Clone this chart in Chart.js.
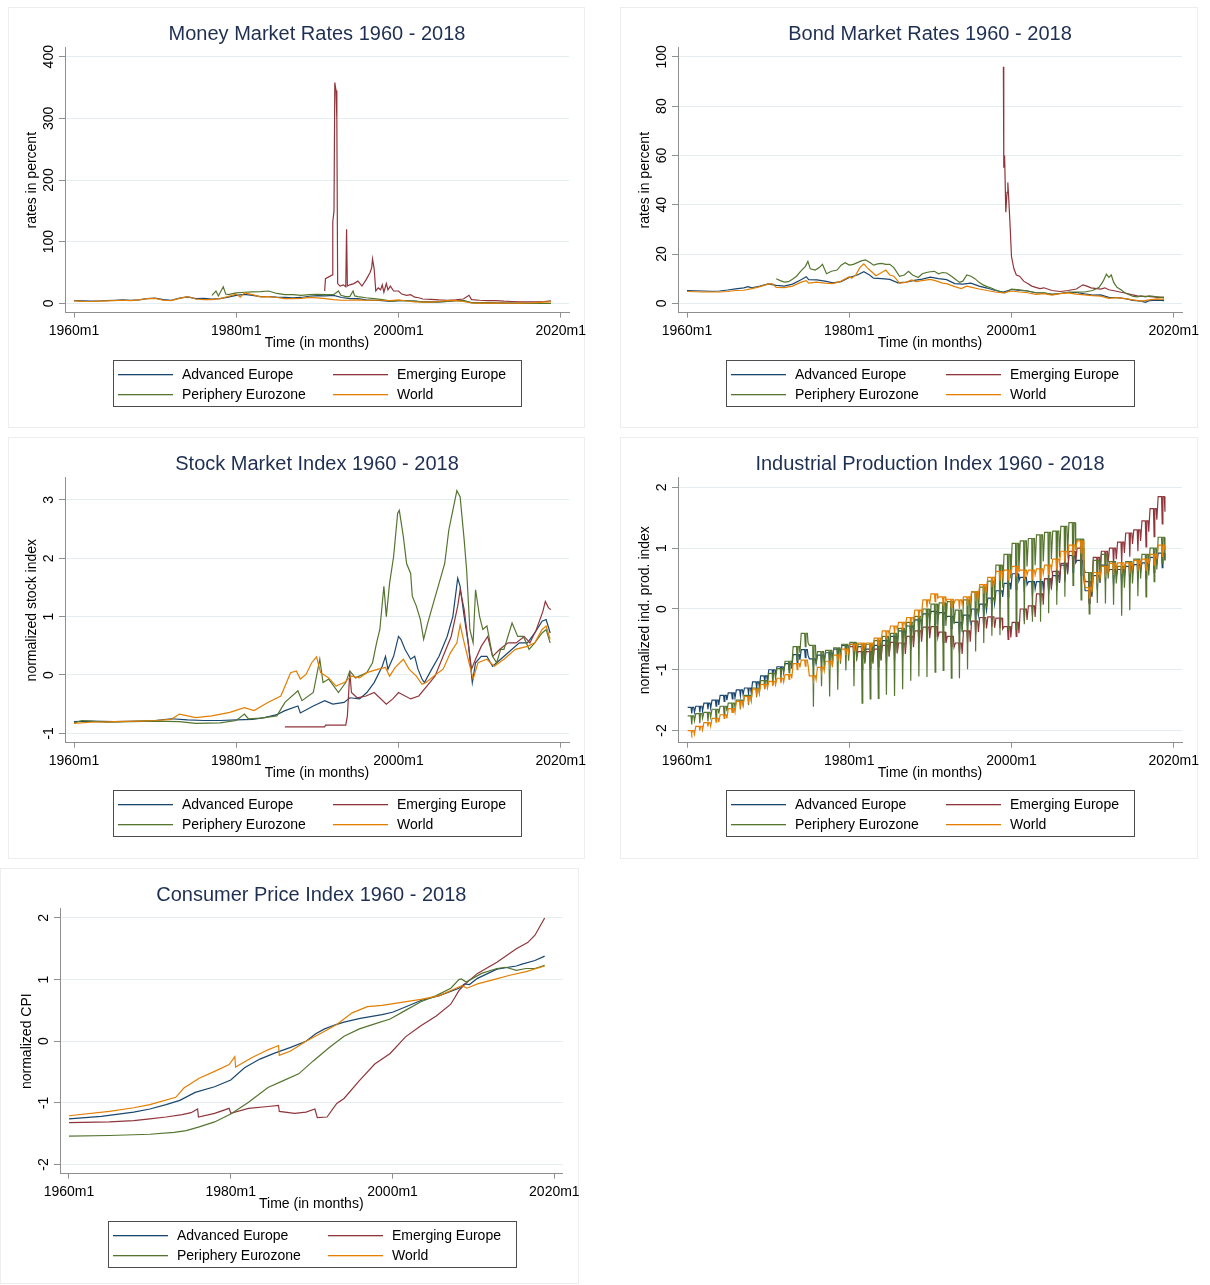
<!DOCTYPE html>
<html><head><meta charset="utf-8">
<script src="https://cdn.jsdelivr.net/npm/chart.js@4.4.1/dist/chart.umd.min.js"></script>
<style>
html,body{margin:0;padding:0;background:#fff;}
body{width:1210px;height:1285px;position:relative;overflow:hidden;}
.frame{position:absolute;border:1px solid #ededed;box-sizing:border-box;}
canvas{position:absolute;}
</style></head><body>
<div class="frame" style="left:8px;top:7px;width:577px;height:421px"></div>
<div class="frame" style="left:620px;top:7px;width:578px;height:421px"></div>
<div class="frame" style="left:8px;top:437px;width:577px;height:422px"></div>
<div class="frame" style="left:620px;top:437px;width:578px;height:422px"></div>
<div class="frame" style="left:0px;top:868px;width:579px;height:416px"></div>
<canvas id="c1" width="600" height="430" style="left:0px;top:0px"></canvas>
<canvas id="c2" width="597" height="430" style="left:613px;top:0px"></canvas>
<canvas id="c3" width="600" height="430" style="left:0px;top:430px"></canvas>
<canvas id="c4" width="597" height="430" style="left:613px;top:430px"></canvas>
<canvas id="c5" width="590" height="424" style="left:-5px;top:861px"></canvas>
<script>
// ---------- shared categories / labels ----------
const SERIES_NAMES = ['Advanced Europe','Emerging Europe','Periphery Eurozone','World'];
const SERIES_COLORS = ['#1a476f','#90353b','#55752f','#e37e00'];
const X_TICKS = [1960,1980,2000,2020];
const X_TICK_SUFFIX = 'm1';
const X_TITLE = 'Time (in months)';

// ---------- Money market rates (percent) ----------
const mmAdv = [[1960,4.5],[1961,4],[1962,3.5],[1963,3.8],[1964,4.5],[1965,5],[1966,5.5],[1967,5],[1968,5.5],[1969,7.5],[1970,8.5],[1971,6],[1972,5],[1973,8.5],[1974,10.5],[1975,7.5],[1976,8],[1977,7],[1978,7.5],[1979,10],[1980,13],[1981,14.5],[1982,13],[1983,11],[1984,11],[1985,10],[1986,9.5],[1987,9],[1988,9.5],[1989,11.5],[1990,12.5],[1991,12],[1992,13],[1993,9.5],[1994,7.5],[1995,7.5],[1996,5.5],[1997,5],[1998,4.5],[1999,3.2],[2000,4.5],[2001,4.2],[2002,3.5],[2003,2.5],[2004,2.2],[2005,2.3],[2006,3.2],[2007,4.3],[2008,4.5],[2009,1],[2010,0.8],[2011,1.2],[2012,0.5],[2013,0.3],[2014,0.2],[2015,0],[2016,-0.2],[2017,-0.3],[2018,-0.3],[2018.8,-0.3]];
const mmEmg = [[1990.9,20],[1991.0,40],[1991.85,46],[1991.9,132],[1992.05,150],[1992.15,358],[1992.3,345],[1992.4,300],[1992.5,32],[1992.8,28],[1993.2,30],[1993.5,27],[1993.6,120],[1993.7,28],[1994.0,30],[1994.5,32],[1995.0,36],[1995.5,28],[1996.0,38],[1996.5,50],[1996.7,58],[1996.8,72],[1997.0,56],[1997.2,20],[1997.5,25],[1997.8,22],[1998.0,30],[1998.2,18],[1998.5,32],[1998.7,22],[1999.0,28],[1999.4,20],[2000,20],[2000.4,15],[2001,13],[2001.5,14],[2002,10],[2002.5,9],[2003,7],[2004,6.5],[2005,5.5],[2006,5],[2007,5.5],[2008,7],[2008.7,13],[2009,6],[2010,5],[2011,4.5],[2012,4.5],[2013,3.5],[2014,3],[2015,2.5],[2016,2.2],[2017,2.5],[2018,3],[2018.8,4]];
const mmPer = [[1977,13],[1977.5,20],[1977.8,12],[1978.4,27],[1978.7,15],[1979,14],[1980,17],[1981,18],[1982,18.5],[1983,19],[1984,20],[1985,16],[1986,14],[1987,14],[1988,13],[1989,14],[1990,14.5],[1991,14],[1992,14],[1992.6,20],[1992.9,13],[1993.5,11],[1994,11],[1994.4,20],[1994.6,12],[1995,11],[1996,9],[1997,7.5],[1998,6],[1999,3.5],[2000,4.5],[2001,4.2],[2002,3.4],[2003,2.4],[2004,2.1],[2005,2.2],[2006,3],[2007,4.2],[2008,4.6],[2009,1.2],[2010,0.7],[2011,1.3],[2012,0.6],[2013,0.2],[2014,0.1],[2015,0],[2016,-0.3],[2017,-0.3],[2018,-0.3],[2018.8,-0.3]];
const mmWld = [[1960,4],[1961,3.2],[1962,3],[1963,3.5],[1964,4],[1965,4.5],[1966,5],[1967,4.5],[1968,5.5],[1969,7.5],[1970,8],[1971,5],[1972,4.5],[1973,8],[1974,11],[1975,7],[1976,6],[1977,6],[1978,7.5],[1979,11],[1980,15],[1980.5,10],[1981,17],[1982,14],[1983,10.5],[1984,11],[1985,9.5],[1986,7.5],[1987,7.5],[1988,8],[1989,9.5],[1990,9],[1991,7.5],[1992,6],[1993,5],[1994,5],[1995,5.5],[1996,5],[1997,5],[1998,5],[1999,4.5],[2000,5.5],[2001,3.8],[2002,2.5],[2003,2],[2004,2],[2005,3],[2006,4.5],[2007,4.8],[2008,3],[2009,0.5],[2010,0.3],[2011,0.4],[2012,0.3],[2013,0.2],[2014,0.1],[2015,0.2],[2016,0.5],[2017,1],[2018,1.8],[2018.8,2.2]];

// ---------- Bond market rates (percent) ----------
const bdAdv = [[1960,5.2],[1961,5.1],[1962,5.0],[1963,4.9],[1964,5.0],[1965,5.4],[1966,5.9],[1967,6.3],[1967.5,6.8],[1968,6.3],[1969,7.0],[1970,7.9],[1971,7.3],[1972,7.0],[1973,7.8],[1974,9.5],[1974.7,10.8],[1975,9.6],[1976,9.5],[1977,9.0],[1978,8.3],[1979,8.8],[1980,10.5],[1981,11.5],[1981.8,12.8],[1982.5,11.5],[1983,10.2],[1984,10.0],[1985,9.7],[1986,8.3],[1987,8.6],[1988,9.3],[1989,9.8],[1990,10.6],[1991,10.0],[1992,9.6],[1993,8.0],[1994,7.8],[1995,8.2],[1996,7.0],[1997,6.2],[1998,5.2],[1999,4.6],[2000,5.6],[2001,5.2],[2002,5.0],[2003,4.3],[2004,4.2],[2005,3.6],[2006,4.0],[2007,4.5],[2008,4.4],[2009,3.8],[2010,3.3],[2011,3.4],[2012,2.4],[2013,2.3],[2014,1.9],[2015,1.2],[2016,0.9],[2016.5,0.4],[2017,1.1],[2018,1.3],[2018.8,1.1]];
const bdEmg = [[1999.0,96],[1999.05,55],[1999.15,60],[1999.3,37],[1999.45,45],[1999.55,49],[1999.7,40],[1999.85,30],[2000.0,19],[2000.3,14],[2000.6,11.5],[2001,11],[2001.5,9],[2002,8],[2002.5,7],[2003,6.5],[2003.5,6],[2004,6.3],[2005,5.2],[2006,4.8],[2007,5.2],[2008,5.8],[2008.8,7.5],[2009.3,7],[2009.8,6.3],[2010.5,6],[2011,5.8],[2011.5,6.3],[2012,5.5],[2012.8,5],[2013.5,4.5],[2014,4.2],[2014.8,3.5],[2015.5,3],[2016,2.8],[2016.8,2.8],[2017.5,2.6],[2018,2.4],[2018.8,2.5]];
const bdPer = [[1971,10],[1971.5,9.2],[1972,8.6],[1972.5,8.8],[1973,9.8],[1973.5,11],[1974,13],[1974.6,15],[1974.9,17],[1975.2,14],[1975.8,13.5],[1976.3,14.5],[1976.7,15.8],[1977.2,12],[1977.8,13],[1978.5,13.5],[1979,15.5],[1979.5,16.5],[1980,15.5],[1980.5,15.8],[1981,16.5],[1981.5,17.2],[1982,17.6],[1982.6,16.5],[1983,15.5],[1983.5,16],[1984,16.2],[1984.5,15.8],[1985,15.8],[1985.5,14.5],[1986.2,11],[1986.8,11.5],[1987.3,13],[1987.8,11.5],[1988.5,10.5],[1989,12],[1989.5,12.5],[1990,12.8],[1990.5,13],[1991,12],[1991.5,12.5],[1992,12.3],[1992.6,11],[1993,10],[1993.6,8.5],[1994,9],[1994.5,11.5],[1995,11],[1995.5,10],[1996,8.5],[1996.5,7.5],[1997,6.8],[1997.5,6.2],[1998,5.5],[1998.8,4.5],[1999.2,4.2],[2000,5.8],[2001,5.5],[2002,5.0],[2003,4.3],[2004,4.3],[2005,3.6],[2006,4.0],[2007,4.5],[2008,4.6],[2009,4.6],[2010,5.2],[2010.8,6.5],[2011.3,9],[2011.7,11.8],[2012,10.5],[2012.3,11.5],[2012.6,8.5],[2013,6.5],[2013.5,5.5],[2014,4.2],[2014.5,3.5],[2015,2.8],[2015.5,2.6],[2016,3.0],[2016.5,2.6],[2017,3.0],[2017.5,2.8],[2018,2.6],[2018.8,2.2]];
const bdWld = [[1960,4.8],[1961,4.7],[1962,4.6],[1963,4.6],[1964,4.6],[1965,4.8],[1966,5.2],[1967,5.3],[1968,6.0],[1969,6.8],[1970,7.8],[1970.5,8],[1971,6.5],[1972,6.4],[1973,7.0],[1974,8.5],[1974.7,9.2],[1975,8.2],[1976,8.6],[1977,8.2],[1978,8.0],[1979,9.0],[1980,10.8],[1980.3,10.2],[1980.8,11.5],[1981.3,14.5],[1981.8,16],[1982.2,14.5],[1982.7,13],[1983.3,11.2],[1984,12.5],[1984.5,13.5],[1985,11.5],[1985.5,11],[1986.2,8.2],[1987,8.5],[1987.7,9.5],[1988.2,8.8],[1989,9.2],[1990,9.7],[1990.8,9],[1991.5,8.2],[1992,8.0],[1993,6.8],[1993.8,6.0],[1994.5,7.0],[1995,6.6],[1996,5.8],[1997,5.2],[1998,4.6],[1999,4.2],[2000,5.0],[2001,4.6],[2002,4.3],[2003,3.6],[2004,3.9],[2005,3.3],[2006,3.9],[2007,4.2],[2008,3.7],[2009,3.4],[2010,3.1],[2011,2.9],[2012,2.0],[2013,2.3],[2014,1.9],[2015,1.4],[2016,0.9],[2017,1.4],[2018,1.8],[2018.8,1.6]];

// ---------- Stock market index (normalized) ----------
const stAdv = [[1960,-0.8],[1962,-0.79],[1965,-0.8],[1968,-0.79],[1970,-0.78],[1972,-0.75],[1974,-0.77],[1976,-0.78],[1978,-0.78],[1980,-0.77],[1982,-0.76],[1983.5,-0.73],[1985,-0.68],[1986,-0.61],[1987.6,-0.53],[1987.9,-0.65],[1989.5,-0.53],[1990.9,-0.44],[1991.9,-0.5],[1993.3,-0.47],[1994,-0.39],[1995.2,-0.41],[1996.1,-0.3],[1997,-0.13],[1998,0.15],[1998.4,0.32],[1998.7,0.1],[1999.4,0.32],[2000,0.66],[2000.3,0.61],[2000.8,0.44],[2001.5,0.27],[2002,0.32],[2002.4,0.1],[2002.9,-0.07],[2003.2,-0.13],[2004.1,0.1],[2005,0.32],[2006,0.66],[2006.7,1.0],[2007.3,1.66],[2007.6,1.52],[2008.1,1.0],[2008.6,0.55],[2009.1,-0.13],[2009.5,0.21],[2010.2,0.32],[2010.9,0.32],[2011.6,0.15],[2012.6,0.27],[2013.5,0.38],[2014.9,0.55],[2015.9,0.55],[2016.8,0.72],[2017.7,0.92],[2018.2,0.95],[2018.7,0.72]];
const stEmg = [[1986,-0.89],[1990.9,-0.89],[1991,-0.86],[1993.5,-0.86],[1993.7,-0.7],[1994,0.05],[1994.2,-0.3],[1994.9,-0.39],[1996,-0.36],[1997,-0.3],[1998.5,-0.5],[1999.3,-0.41],[2000,-0.3],[2001.5,-0.41],[2002.5,-0.36],[2003.5,-0.19],[2004.5,-0.02],[2005.5,0.32],[2006.5,0.66],[2007.3,1.18],[2007.6,1.46],[2008.1,1.12],[2008.6,0.55],[2009,0.1],[2009.5,0.27],[2010.2,0.49],[2011,0.66],[2011.6,0.32],[2012.5,0.44],[2013.5,0.55],[2014.5,0.55],[2015.5,0.66],[2016.2,0.55],[2017,0.78],[2017.8,1.09],[2018.1,1.26],[2018.5,1.15],[2018.8,1.12]];
const stPer = [[1960,-0.82],[1961,-0.78],[1962,-0.79],[1964,-0.81],[1967,-0.8],[1970,-0.79],[1973,-0.8],[1975,-0.83],[1978,-0.82],[1980,-0.78],[1981,-0.67],[1981.5,-0.75],[1983,-0.74],[1985,-0.7],[1986,-0.47],[1987.6,-0.27],[1988.1,-0.44],[1989.5,-0.3],[1990.3,0.27],[1990.7,-0.13],[1991.4,-0.07],[1992.6,-0.3],[1993.5,-0.13],[1994,0.07],[1994.7,-0.05],[1996.1,0.04],[1996.8,0.21],[1997.3,0.55],[1997.7,0.78],[1998.2,1.52],[1998.5,1.0],[1998.9,1.57],[1999.4,2.03],[1999.9,2.77],[2000.1,2.82],[2000.6,2.37],[2001,1.91],[2001.5,1.74],[2001.7,1.35],[2002.2,1.18],[2002.7,0.95],[2003.1,0.61],[2003.6,0.89],[2004.3,1.23],[2005,1.57],[2005.7,1.91],[2006.2,2.48],[2006.7,2.82],[2007.2,3.16],[2007.6,3.05],[2008.1,2.31],[2008.4,1.8],[2008.8,0.78],[2009.2,0.55],[2009.5,1.46],[2010,1.0],[2010.4,0.78],[2010.9,0.84],[2011.6,0.32],[2012.1,0.21],[2012.6,0.44],[2013,0.44],[2014,0.89],[2014.7,0.66],[2015.4,0.66],[2016.1,0.44],[2016.8,0.55],[2017.7,0.72],[2018.2,0.78],[2018.7,0.55]];
const stWld = [[1960,-0.83],[1962,-0.81],[1965,-0.8],[1968,-0.79],[1970,-0.78],[1972,-0.76],[1973,-0.67],[1975,-0.73],[1977,-0.7],[1979.2,-0.64],[1981,-0.56],[1982.2,-0.61],[1983.9,-0.47],[1985.5,-0.36],[1986.7,0.04],[1987.4,0.07],[1987.9,-0.07],[1988.6,0.01],[1989.3,0.21],[1989.9,0.31],[1990.4,0.04],[1991.4,-0.05],[1992.3,-0.19],[1993.3,-0.13],[1994.2,-0.02],[1995.2,-0.05],[1996.1,0.04],[1997.5,0.1],[1998.4,0.13],[1998.9,-0.02],[1999.6,0.13],[2000.6,0.27],[2001.3,0.1],[2002.2,-0.02],[2002.9,-0.16],[2003.4,-0.13],[2004.6,0.01],[2005.5,0.1],[2006.4,0.38],[2007.2,0.55],[2007.6,0.86],[2008.1,0.55],[2008.7,0.21],[2009.2,-0.07],[2009.8,0.21],[2010.9,0.27],[2011.8,0.15],[2013,0.27],[2014.4,0.44],[2015.9,0.49],[2016.8,0.55],[2017.7,0.78],[2018.2,0.84],[2018.7,0.61]];

// ---------- Industrial production (normalized): yearly level, August value, December value ----------
const ipAdvStart = 1960;
const ipAdvHi  = [-1.62,-1.6,-1.55,-1.5,-1.42,-1.38,-1.33,-1.3,-1.2,-1.1,-1.0,-0.95,-0.9,-0.75,-0.67,-0.82,-0.76,-0.72,-0.66,-0.6,-0.58,-0.62,-0.66,-0.6,-0.52,-0.45,-0.36,-0.28,-0.18,-0.08,-0.04,-0.06,-0.12,-0.22,-0.1,0.0,0.08,0.18,0.3,0.42,0.58,0.52,0.45,0.45,0.5,0.55,0.72,0.88,0.8,0.3,0.55,0.72,0.65,0.65,0.7,0.73,0.76,0.85,0.92];
const ipAdvLo  = [-1.72,-1.7,-1.65,-1.6,-1.52,-1.48,-1.43,-1.4,-1.3,-1.2,-1.1,-1.05,-1.0,-0.88,-0.8,-0.95,-0.88,-0.85,-0.78,-0.72,-0.78,-0.82,-0.86,-0.8,-0.72,-0.65,-0.56,-0.48,-0.38,-0.28,-0.24,-0.26,-0.32,-0.42,-0.3,-0.2,-0.12,-0.02,0.1,0.2,0.32,0.28,0.2,0.2,0.25,0.3,0.45,0.6,0.55,0.1,0.32,0.45,0.4,0.4,0.45,0.48,0.5,0.6,0.68];
const ipAdvDec = [-1.7,-1.68,-1.63,-1.58,-1.5,-1.46,-1.41,-1.38,-1.28,-1.18,-1.08,-1.03,-0.98,-0.84,-0.76,-0.9,-0.84,-0.8,-0.74,-0.68,-0.68,-0.72,-0.76,-0.7,-0.62,-0.55,-0.46,-0.38,-0.28,-0.18,-0.14,-0.16,-0.22,-0.32,-0.2,-0.1,-0.02,0.08,0.2,0.32,0.46,0.4,0.33,0.33,0.38,0.43,0.6,0.76,0.5,0.2,0.43,0.6,0.53,0.53,0.58,0.61,0.64,0.73,0.8];
const ipEmgStart = 1980;
const ipEmgHi  = [-0.62,-0.7,-0.7,-0.66,-0.6,-0.55,-0.56,-0.45,-0.36,-0.3,-0.29,-0.38,-0.45,-0.56,-0.36,-0.2,-0.14,-0.13,-0.15,-0.29,-0.22,0.0,0.05,0.25,0.5,0.62,0.75,0.95,1.0,0.45,0.85,0.95,1.0,1.1,1.25,1.3,1.45,1.65,1.85];
const ipEmgLo  = [-0.95,-1.0,-0.98,-0.95,-0.9,-0.85,-0.78,-0.68,-0.56,-0.5,-0.45,-0.55,-0.62,-0.73,-0.56,-0.42,-0.32,-0.29,-0.32,-0.5,-0.45,-0.2,-0.12,0.05,0.3,0.45,0.53,0.69,0.75,0.09,0.58,0.7,0.72,0.75,0.86,0.95,1.02,1.19,1.4];
const ipEmgDec = [-0.8,-0.88,-0.88,-0.84,-0.78,-0.73,-0.74,-0.63,-0.54,-0.48,-0.47,-0.56,-0.63,-0.74,-0.54,-0.38,-0.32,-0.31,-0.33,-0.47,-0.4,-0.18,-0.13,0.07,0.32,0.44,0.57,0.77,0.6,0.27,0.67,0.77,0.82,0.92,1.07,1.12,1.27,1.47,1.6];
const ipPerStart = 1960;
const ipPerHi  = [-1.76,-1.72,-1.7,-1.65,-1.6,-1.55,-1.5,-1.42,-1.3,-1.18,-1.06,-0.98,-0.86,-0.62,-0.4,-0.6,-0.7,-0.68,-0.64,-0.58,-0.55,-0.58,-0.58,-0.52,-0.45,-0.4,-0.32,-0.22,-0.12,0.0,0.08,0.1,0.12,-0.02,0.15,0.28,0.36,0.46,0.72,0.9,1.08,1.12,1.16,1.22,1.26,1.28,1.36,1.42,1.15,0.6,0.8,0.9,0.78,0.7,0.78,0.82,0.9,1.0,1.18];
const ipPerLo  = [-1.9,-1.88,-1.85,-1.8,-1.75,-1.7,-1.65,-1.58,-1.45,-1.32,-1.25,-1.18,-1.05,-0.85,-0.62,-1.61,-1.27,-1.44,-1.33,-1.01,-1.27,-1.55,-1.48,-1.47,-1.41,-1.43,-1.32,-1.18,-1.11,-1.12,-1.04,-1.01,-1.14,-1.14,-0.99,-0.7,-0.56,-0.44,-0.43,-0.34,-0.34,-0.25,-0.21,-0.21,-0.07,0.07,0.2,0.39,0.15,-0.08,0.1,0.09,0.07,-0.11,-0.02,0.21,0.2,0.45,0.75];
const ipPerDec = [-1.84,-1.8,-1.78,-1.72,-1.68,-1.62,-1.58,-1.5,-1.38,-1.26,-1.14,-1.06,-0.95,-0.72,-0.55,-0.9,-0.98,-0.95,-0.9,-0.85,-0.85,-0.9,-0.9,-0.85,-0.78,-0.72,-0.65,-0.55,-0.45,-0.35,-0.3,-0.28,-0.25,-0.38,-0.2,-0.08,0.02,0.12,0.35,0.5,0.65,0.7,0.72,0.78,0.82,0.85,0.92,1.0,0.7,0.25,0.45,0.5,0.42,0.35,0.42,0.5,0.55,0.65,0.8];
const ipWldStart = 1960;
const ipWldHi  = [-2.0,-1.93,-1.87,-1.8,-1.74,-1.64,-1.52,-1.44,-1.32,-1.24,-1.19,-1.14,-1.08,-0.9,-0.84,-1.1,-0.96,-0.86,-0.76,-0.66,-0.58,-0.56,-0.56,-0.48,-0.36,-0.28,-0.22,-0.14,-0.02,0.15,0.25,0.2,0.16,0.15,0.2,0.28,0.4,0.52,0.62,0.64,0.7,0.64,0.64,0.66,0.72,0.82,0.95,1.05,1.12,0.35,0.6,0.7,0.75,0.76,0.76,0.8,0.82,0.9,1.05];
const ipWldLo  = [-2.05,-2.0,-1.93,-1.86,-1.8,-1.7,-1.6,-1.52,-1.4,-1.32,-1.27,-1.22,-1.16,-1.0,-0.94,-1.19,-1.05,-0.95,-0.86,-0.76,-0.7,-0.68,-0.68,-0.6,-0.48,-0.4,-0.35,-0.27,-0.15,0.02,0.12,0.06,0.02,0.0,0.05,0.13,0.25,0.36,0.46,0.48,0.54,0.48,0.48,0.5,0.56,0.65,0.78,0.88,0.92,0.18,0.42,0.52,0.56,0.58,0.58,0.62,0.64,0.72,0.86];
const ipWldDec = [-2.06,-1.99,-1.93,-1.86,-1.8,-1.7,-1.58,-1.5,-1.38,-1.3,-1.25,-1.2,-1.14,-0.96,-0.92,-1.16,-1.02,-0.92,-0.82,-0.72,-0.64,-0.62,-0.62,-0.54,-0.42,-0.34,-0.28,-0.2,-0.08,0.08,0.18,0.13,0.09,0.08,0.13,0.21,0.33,0.45,0.55,0.57,0.62,0.56,0.56,0.58,0.64,0.74,0.87,0.97,0.6,0.28,0.52,0.62,0.67,0.68,0.68,0.72,0.74,0.82,0.97];

// ---------- Consumer price index (normalized) ----------
const cpiAdv = [[1960,-1.26],[1964,-1.22],[1968,-1.15],[1970,-1.1],[1972,-1.03],[1973.7,-0.96],[1975.6,-0.83],[1978,-0.74],[1980,-0.63],[1981.7,-0.43],[1983.6,-0.29],[1985.5,-0.19],[1987.4,-0.1],[1989.3,0.0],[1990.5,0.12],[1991.6,0.2],[1993,0.27],[1994,0.31],[1996,0.37],[1998.7,0.43],[2000,0.47],[2001.5,0.55],[2003.5,0.66],[2005.8,0.74],[2008.2,0.86],[2008.9,0.93],[2009.5,0.92],[2010.5,1.02],[2012.9,1.17],[2015.3,1.22],[2016,1.25],[2017.6,1.31],[2018.8,1.38]];
const cpiEmg = [[1960,-1.32],[1965,-1.31],[1968,-1.29],[1970,-1.26],[1972,-1.23],[1974,-1.19],[1975.1,-1.16],[1975.9,-1.1],[1976.0,-1.23],[1978,-1.17],[1979.8,-1.09],[1980.0,-1.17],[1982.2,-1.09],[1984.6,-1.06],[1985.9,-1.04],[1986.0,-1.14],[1987.9,-1.17],[1989.3,-1.15],[1990.4,-1.1],[1990.7,-1.24],[1991.9,-1.23],[1993.1,-1.01],[1994,-0.93],[1995.9,-0.64],[1997.8,-0.37],[1999.7,-0.2],[2001.6,0.07],[2003.5,0.25],[2005.4,0.41],[2007.2,0.6],[2008.2,0.82],[2008.9,0.92],[2010.5,1.1],[2012.9,1.28],[2015.3,1.5],[2016.7,1.6],[2017.6,1.72],[2018.8,2.0]];
const cpiPer = [[1960,-1.54],[1965,-1.53],[1970,-1.51],[1973,-1.48],[1974.5,-1.45],[1976.1,-1.39],[1978,-1.31],[1980,-1.18],[1982.2,-0.99],[1984.6,-0.75],[1986.5,-0.64],[1988.4,-0.53],[1990.2,-0.32],[1992.1,-0.11],[1994,0.08],[1995.9,0.2],[1997.8,0.28],[1999.7,0.36],[2001.6,0.5],[2003.5,0.64],[2005.4,0.74],[2007.2,0.86],[2008.2,1.0],[2008.5,1.01],[2009.1,0.96],[2011,1.1],[2012.9,1.18],[2014,1.2],[2015.3,1.15],[2016.5,1.18],[2017.6,1.18],[2018.8,1.23]];
const cpiWld = [[1960,-1.21],[1965,-1.14],[1968,-1.08],[1970,-1.03],[1973.2,-0.91],[1974.2,-0.76],[1976.1,-0.6],[1978,-0.49],[1979.8,-0.38],[1980.5,-0.25],[1980.6,-0.42],[1982.7,-0.26],[1984.6,-0.14],[1985.9,-0.07],[1986.0,-0.23],[1987.4,-0.16],[1989.3,0.0],[1991.6,0.16],[1993.1,0.27],[1995,0.46],[1996.9,0.56],[1998.7,0.58],[2001.1,0.63],[2003.5,0.68],[2005.8,0.74],[2008.2,0.88],[2008.6,0.9],[2009.2,0.86],[2010.5,0.93],[2012.5,1.0],[2014.5,1.07],[2016.5,1.13],[2018.8,1.22]];

// ---------- axis ticks ----------
const mmYTicks = [0,100,200,300,400];
const bdYTicks = [0,20,40,60,80,100];
const stYTicks = [-1,0,1,2,3];
const ipYTicks = [-2,-1,0,1,2];
const cpiYTicks = [-2,-1,0,1,2];

// ---------- rendering ----------
const FONT = '"Liberation Sans", Arial, Helvetica, sans-serif';
const TITLE_COLOR = '#1e2f52';
const AXIS_COLOR = '#8f8f8f';
const GRID_COLOR = '#e4edf0';
const X_MIN = 1958.89, X_MAX = 2021.02;

const knots = a => a.map(p => ({x:p[0], y:p[1]}));
function seasonal(start, hi, lo, dec){
  const pts = [];
  for (let i = 0; i < hi.length; i++){
    const y = start + i;
    pts.push({x:y+1/12,y:hi[i]},{x:y+6/12,y:hi[i]},{x:y+7/12,y:lo[i]},{x:y+8/12,y:hi[i]},{x:y+10/12,y:hi[i]},{x:y+11/12,y:dec[i]});
  }
  return pts;
}

function makeChart(id, p){
  const el = document.getElementById(id);
  const W = el.width, H = el.height;
  const xAxisH = 39.2;
  const textPlugin = {
    id: 'stataText',
    afterDraw(chart){
      const ctx = chart.ctx, a = chart.chartArea, ys = chart.scales.y;
      ctx.save();
      ctx.textAlign = 'center'; ctx.textBaseline = 'middle';
      ctx.fillStyle = TITLE_COLOR; ctx.font = '20px ' + FONT;
      ctx.fillText(p.title, (a.left + a.right) / 2, a.top - 13);
      ctx.fillStyle = '#000'; ctx.font = '14px ' + FONT;
      p.yTicks.forEach(v => {
        const y = ys.getPixelForValue(v);
        ctx.save(); ctx.translate(a.left - 16, y); ctx.rotate(-Math.PI/2);
        ctx.fillText(String(v), 0, 0); ctx.restore();
      });
      ctx.save(); ctx.translate(a.left - 32.6, (a.top + a.bottom) / 2); ctx.rotate(-Math.PI/2);
      ctx.fillText(p.yTitle, 0, 0); ctx.restore();
      // legend
      const bx = Math.round(a.left + 47.5) + 0.5, by = Math.round(a.bottom + 47.3) + 0.5;
      ctx.strokeStyle = '#4d4d4d'; ctx.lineWidth = 1;
      ctx.strokeRect(bx, by, 408, 46);
      const rows = [Math.round(a.bottom + 60.8), Math.round(a.bottom + 81.2)];
      const cols = [Math.round(a.left + 53), Math.round(a.left + 268)];
      ctx.textAlign = 'left';
      SERIES_NAMES.forEach((name, i) => {
        const r = rows[Math.floor(i / 2)], c = cols[i % 2];
        ctx.fillStyle = SERIES_COLORS[i];
        ctx.fillRect(c, r, 55, 1.3);
        ctx.fillStyle = '#000';
        ctx.fillText(name, c + 64, r + 0.8);
      });
      ctx.restore();
    }
  };
  new Chart(el, {
    type: 'line',
    data: { datasets: p.series.map((d, i) => ({
      label: SERIES_NAMES[i], data: d, borderColor: SERIES_COLORS[i], backgroundColor: SERIES_COLORS[i],
      borderWidth: 1.2, pointRadius: 0, pointHoverRadius: 0, fill: false, tension: 0, order: 3 - i
    })) },
    options: {
      responsive: false, animation: false, devicePixelRatio: 1,
      layout: { padding: { left: 55, top: 47.7, right: W - 569, bottom: H - 312.7 - xAxisH } },
      plugins: { legend: { display: false }, tooltip: { enabled: false }, title: { display: false } },
      scales: {
        x: {
          type: 'linear', min: X_MIN, max: X_MAX,
          afterBuildTicks: s => { s.ticks = X_TICKS.map(v => ({value: v})); },
          afterFit: s => { s.height = xAxisH; },
          grid: { drawOnChartArea: false, drawTicks: true, tickLength: 5, tickColor: AXIS_COLOR },
          border: { display: true, color: AXIS_COLOR, width: 1 },
          ticks: { autoSkip: false, maxRotation: 0, minRotation: 0, padding: 5, color: '#000',
                   font: { family: FONT, size: 14 }, callback: v => v + X_TICK_SUFFIX },
          title: { display: true, text: X_TITLE, color: '#000', font: { family: FONT, size: 14 }, padding: 0 }
        },
        y: {
          type: 'linear', min: p.yMin, max: p.yMax,
          afterBuildTicks: s => { s.ticks = p.yTicks.map(v => ({value: v})); },
          afterFit: s => { s.width = 10; },
          grid: { color: GRID_COLOR, lineWidth: 1, drawTicks: true, tickLength: 6, tickColor: AXIS_COLOR },
          border: { display: true, color: AXIS_COLOR, width: 1 },
          ticks: { display: false }
        }
      }
    },
    plugins: [textPlugin]
  });
}

makeChart('c1', { title: 'Money Market Rates 1960 - 2018', yTitle: 'rates in percent', yTicks: mmYTicks, yMin: -15.2, yMax: 414.6,
  series: [knots(mmAdv), knots(mmEmg), knots(mmPer), knots(mmWld)] });
makeChart('c2', { title: 'Bond Market Rates 1960 - 2018', yTitle: 'rates in percent', yTicks: bdYTicks, yMin: -3.8, yMax: 103.7,
  series: [knots(bdAdv), knots(bdEmg), knots(bdPer), knots(bdWld)] });
makeChart('c3', { title: 'Stock Market Index 1960 - 2018', yTitle: 'normalized stock index', yTicks: stYTicks, yMin: -1.16, yMax: 3.38,
  series: [knots(stAdv), knots(stEmg), knots(stPer), knots(stWld)] });
makeChart('c4', { title: 'Industrial Production Index 1960 - 2018', yTitle: 'normalized ind. prod. index', yTicks: ipYTicks, yMin: -2.2, yMax: 2.16,
  series: [seasonal(ipAdvStart, ipAdvHi, ipAdvLo, ipAdvDec), seasonal(ipEmgStart, ipEmgHi, ipEmgLo, ipEmgDec), seasonal(ipPerStart, ipPerHi, ipPerLo, ipPerDec), seasonal(ipWldStart, ipWldHi, ipWldLo, ipWldDec)] });
makeChart('c5', { title: 'Consumer Price Index 1960 - 2018', yTitle: 'normalized CPI', yTicks: cpiYTicks, yMin: -2.15, yMax: 2.15,
  series: [knots(cpiAdv), knots(cpiEmg), knots(cpiPer), knots(cpiWld)] });
</script>
</body></html>
